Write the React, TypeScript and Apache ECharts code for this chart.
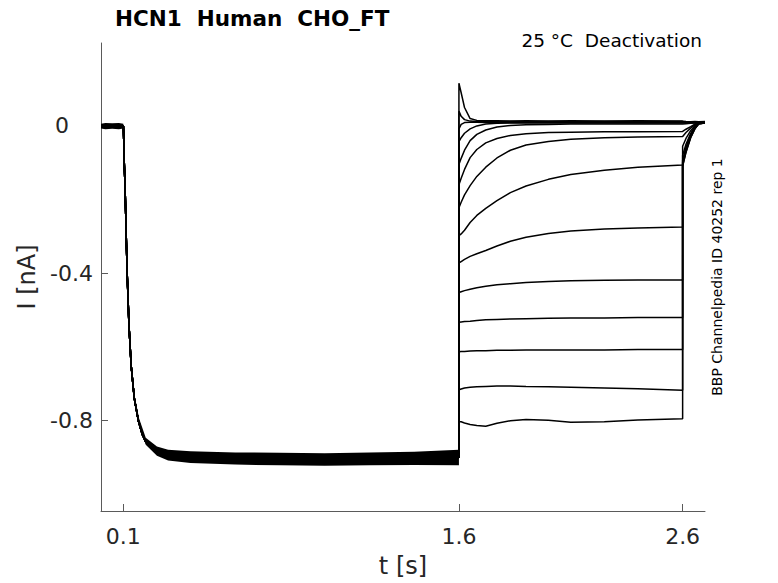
import React, { useEffect, useRef } from "react";
import * as echarts from "echarts";

// ---- texts ----
const TITLE = "HCN1  Human  CHO_FT";
const SUBTITLE = "25 °C  Deactivation";
const SIDE_TEXT = "BBP Channelpedia ID 40252 rep 1";
const X_NAME = "t [s]";
const Y_NAME = "I [nA]";

// ---- ticks ----
const xTickValues = [0.1, 1.6, 2.6];
const yTickValues = [-0.8, -0.4, 0];

// ---- activation phase (common to all sweeps) ----
const actTimes = [0, 0.1, 0.1005, 0.104, 0.108, 0.112, 0.117, 0.125, 0.135, 0.149, 0.167, 0.185, 0.2, 0.225, 0.25, 0.3, 0.36, 0.5, 0.8, 1.1, 1.4, 1.6];
const actCurrent = [0.0, 0.0, -0.01, -0.1, -0.175, -0.28, -0.4, -0.54, -0.652, -0.74, -0.8, -0.838, -0.857, -0.875, -0.885, -0.895, -0.9, -0.903, -0.905, -0.905, -0.903, -0.9];

// noise envelope of the overlapping sweeps during activation plateau
const bandTimes = [0.13, 0.15, 0.17, 0.2, 0.25, 0.3, 0.4, 0.6, 0.8, 1.0, 1.2, 1.4, 1.6];
const bandUpper = [-0.605, -0.73, -0.793, -0.846, -0.87, -0.879, -0.883, -0.886, -0.887, -0.888, -0.886, -0.884, -0.879];
const bandLower = [-0.625, -0.75, -0.812, -0.865, -0.895, -0.908, -0.915, -0.919, -0.921, -0.922, -0.921, -0.92, -0.921];

// noise envelope of the baseline before the step
const baseTimes = [0, 0.02, 0.05, 0.08, 0.1];
const baseUpper = [0.006, 0.008, 0.007, 0.008, 0.006];
const baseLower = [-0.007, -0.009, -0.008, -0.009, -0.007];

// ---- deactivation steps ----
const deactTimes = [1.6, 1.61, 1.625, 1.65, 1.68, 1.72, 1.77, 1.83, 1.9, 2.0, 2.1, 2.25, 2.4, 2.6];
const deact01 = [0.116, 0.09, 0.05, 0.02, 0.015, 0.014, 0.014, 0.013, 0.014, 0.013, 0.014, 0.013, 0.014, 0.013];
const deact02 = [0.04, 0.026, 0.017, 0.013, 0.012, 0.012, 0.011, 0.012, 0.011, 0.012, 0.011, 0.012, 0.011, 0.012];
const deact03 = [-0.008, 0.004, 0.009, 0.01, 0.01, 0.009, 0.01, 0.009, 0.01, 0.009, 0.01, 0.009, 0.01, 0.009];
const deact04 = [-0.043, -0.032, -0.02, -0.008, 0.0, 0.005, 0.007, 0.008, 0.008, 0.008, 0.008, 0.008, 0.008, 0.008];
const deact05 = [-0.105, -0.088, -0.066, -0.04, -0.023, -0.011, -0.003, 0.001, 0.003, 0.004, 0.005, 0.005, 0.005, 0.005];
const deact06 = [-0.16, -0.142, -0.118, -0.086, -0.064, -0.046, -0.034, -0.026, -0.021, -0.018, -0.017, -0.016, -0.016, -0.015];
const deact07 = [-0.222, -0.207, -0.187, -0.162, -0.137, -0.112, -0.087, -0.066, -0.052, -0.042, -0.036, -0.032, -0.03, -0.029];
const deact08 = [-0.298, -0.293, -0.283, -0.262, -0.243, -0.224, -0.203, -0.181, -0.163, -0.145, -0.132, -0.12, -0.112, -0.106];
const deact09 = [-0.372, -0.368, -0.362, -0.354, -0.347, -0.338, -0.326, -0.313, -0.302, -0.292, -0.285, -0.28, -0.277, -0.274];
const deact10 = [-0.452, -0.45, -0.447, -0.443, -0.439, -0.435, -0.431, -0.428, -0.425, -0.422, -0.42, -0.419, -0.418, -0.418];
const deact11 = [-0.533, -0.532, -0.531, -0.53, -0.528, -0.526, -0.525, -0.524, -0.523, -0.522, -0.521, -0.521, -0.52, -0.52];
const deact12 = [-0.613, -0.612, -0.612, -0.611, -0.61, -0.61, -0.609, -0.609, -0.608, -0.608, -0.608, -0.608, -0.607, -0.607];
const deact13 = [-0.716, -0.714, -0.711, -0.709, -0.708, -0.707, -0.706, -0.706, -0.707, -0.708, -0.709, -0.711, -0.713, -0.717];
const deact14 = [-0.803, -0.803, -0.806, -0.81, -0.813, -0.815, -0.807, -0.8, -0.797, -0.799, -0.804, -0.803, -0.798, -0.795];

// ---- tails after return to holding ----
const tailTimes = [2.6, 2.615, 2.636, 2.655, 2.672, 2.7];
const tail01 = [0.012, 0.012, 0.011, 0.012, 0.011, 0.012];
const tail02 = [0.011, 0.01, 0.011, 0.01, 0.011, 0.01];
const tail03 = [0.009, 0.009, 0.01, 0.009, 0.01, 0.009];
const tail04 = [0.007, 0.008, 0.008, 0.009, 0.008, 0.009];
const tail05 = [0.004, 0.006, 0.007, 0.008, 0.008, 0.008];
const tail06 = [-0.016, -0.009, -0.002, 0.005, 0.008, 0.009];
const tail07 = [-0.03, -0.018, -0.006, 0.003, 0.008, 0.008];
const tail08 = [-0.055, -0.034, -0.013, 0.0, 0.007, 0.008];
const tail09 = [-0.08, -0.05, -0.02, -0.002, 0.007, 0.008];
const tail10 = [-0.094, -0.058, -0.024, -0.004, 0.007, 0.008];
const tail11 = [-0.1, -0.063, -0.027, -0.005, 0.006, 0.008];
const tail12 = [-0.104, -0.067, -0.029, -0.006, 0.006, 0.008];
const tail13 = [-0.108, -0.07, -0.031, -0.007, 0.006, 0.008];
const tail14 = [-0.11, -0.072, -0.032, -0.008, 0.006, 0.008];

const deactSweeps = [deact01, deact02, deact03, deact04, deact05, deact06, deact07, deact08, deact09, deact10, deact11, deact12, deact13, deact14];
const tailSweeps = [tail01, tail02, tail03, tail04, tail05, tail06, tail07, tail08, tail09, tail10, tail11, tail12, tail13, tail14];

const FONT = "DejaVu Sans";
const AXIS_COLOR = "#5a5a5a";
const LABEL_COLOR = "#262626";

function pairs(ts: number[], vs: number[]): number[][] {
  return ts.map((t, i) => [t, vs[i]]);
}

function envelopeSeries(ts: number[], up: number[], lo: number[]) {
  return {
    type: "custom",
    silent: true,
    clip: true,
    data: [[ts[0], up[0]]],
    renderItem: (_params: any, api: any) => {
      const pts: number[][] = [];
      for (let i = 0; i < ts.length; i++) pts.push(api.coord([ts[i], up[i]]));
      for (let i = ts.length - 1; i >= 0; i--) pts.push(api.coord([ts[i], lo[i]]));
      return { type: "polygon", shape: { points: pts }, style: { fill: "#000" } };
    },
  };
}

export default function App() {
  const ref = useRef<HTMLDivElement>(null);

  useEffect(() => {
    if (!ref.current) return;
    const chart = echarts.init(ref.current, undefined, { renderer: "svg" });

    const sweepSeries = deactSweeps.map((d, k) => ({
      type: "line",
      name: "sweep " + (k + 1),
      silent: true,
      showSymbol: false,
      symbol: "none",
      lineStyle: { color: "#000", width: 1.5 },
      data: [
        ...pairs(actTimes, actCurrent),
        ...pairs(deactTimes, d),
        ...pairs(tailTimes, tailSweeps[k]),
      ],
    }));

    chart.setOption({
      animation: false,
      backgroundColor: "#fff",
      title: [
        {
          text: TITLE,
          left: 115,
          top: 7,
          padding: 0,
          textStyle: { fontFamily: FONT, fontSize: 21.5, fontWeight: "bold", color: "#000" },
        },
        {
          text: SUBTITLE,
          right: 76,
          top: 31,
          padding: 0,
          textStyle: { fontFamily: FONT, fontSize: 18.5, fontWeight: "normal", color: "#000" },
        },
      ],
      graphic: [
        {
          type: "text",
          x: 717,
          y: 277,
          rotation: Math.PI / 2,
          style: {
            text: SIDE_TEXT,
            fontFamily: FONT,
            fontSize: 14,
            fill: "#000",
            align: "center",
            verticalAlign: "middle",
          },
        },
      ],
      grid: { left: 101, right: 73, top: 43, bottom: 71, containLabel: false },
      xAxis: {
        type: "value",
        min: 0,
        max: 2.7,
        name: X_NAME,
        nameLocation: "middle",
        nameGap: 43,
        nameTextStyle: { fontFamily: FONT, fontSize: 24, color: LABEL_COLOR },
        axisLine: { show: true, onZero: false, lineStyle: { color: AXIS_COLOR, width: 1 } },
        axisTick: { show: true, inside: true, length: 7, customValues: xTickValues, lineStyle: { color: AXIS_COLOR } },
        axisLabel: {
          customValues: xTickValues,
          formatter: (v: number) => v.toFixed(1),
          fontFamily: FONT,
          fontSize: 22,
          color: LABEL_COLOR,
          margin: 14,
        },
        splitLine: { show: false },
      },
      yAxis: {
        type: "value",
        min: -1.045,
        max: 0.225,
        name: Y_NAME,
        nameLocation: "middle",
        nameGap: 61,
        nameTextStyle: { fontFamily: FONT, fontSize: 24, color: LABEL_COLOR },
        axisLine: { show: true, onZero: false, lineStyle: { color: AXIS_COLOR, width: 1 } },
        axisTick: { show: true, inside: true, length: 7, customValues: yTickValues, lineStyle: { color: AXIS_COLOR } },
        axisLabel: {
          customValues: yTickValues,
          formatter: (v: number) => (Math.abs(v) < 1e-9 ? "{zero|0}" : "{n|" + v.toFixed(1) + "}"),
          margin: 8,
          rich: {
            zero: { fontFamily: FONT, fontSize: 22, color: LABEL_COLOR, padding: [0, 24, 0, 0] },
            n: { fontFamily: FONT, fontSize: 22, color: LABEL_COLOR },
          },
        },
        splitLine: { show: false },
      },
      series: [
        envelopeSeries(baseTimes, baseUpper, baseLower),
        envelopeSeries(bandTimes, bandUpper, bandLower),
        ...sweepSeries,
      ],
    });

    return () => chart.dispose();
  }, []);

  return (
    <div
      ref={ref}
      style={{ position: "fixed", left: 0, top: 0, width: 778, height: 583, background: "#fff" }}
    />
  );
}
